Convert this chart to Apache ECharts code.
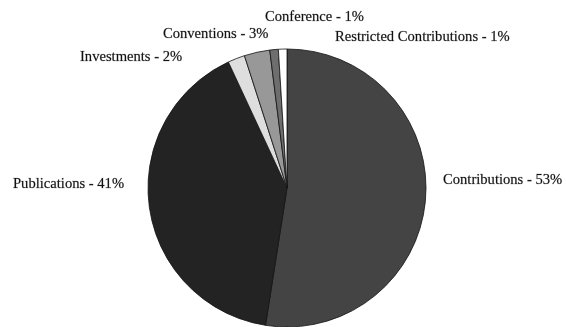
<!DOCTYPE html>
<html>
<head>
<meta charset="utf-8">
<script src="https://cdn.jsdelivr.net/npm/echarts@6/dist/echarts.min.js"></script>
<style>
  html, body { margin: 0; padding: 0; background: #fff; }
  #chart { width: 566px; height: 327px; }
</style>
</head>
<body>
<div id="chart"></div>
<script>
// Revenue sources, in percent
const categories = ['Contributions', 'Publications', 'Investments', 'Conventions', 'Conference', 'Restricted Contributions'];
const shares = [53, 41, 2, 3, 1, 1];

// Slice fills, one per category
const sliceColors = ['#444444', '#232323', '#dedede', '#989898', '#6e6e6e', '#ffffff'];

// Label anchor points (left edge, vertical middle)
const labelAnchors = [
  [443, 180],
  [13, 184],
  [80, 57],
  [163, 34],
  [265, 17],
  [335, 37]
];

const chart = echarts.init(document.getElementById('chart'), null, { renderer: 'canvas' });

chart.setOption({
  animation: false,
  backgroundColor: '#ffffff',
  series: [{
    type: 'pie',
    center: [287, 188],
    radius: 139,
    startAngle: 90,
    clockwise: true,
    avoidLabelOverlap: false,
    itemStyle: { borderColor: '#111', borderWidth: 0.8 },
    label: {
      show: true,
      position: 'outside',
      formatter: p => p.name + ' - ' + p.value + '%',
      fontFamily: '"Liberation Serif", "Times New Roman", serif',
      fontSize: 14.6,
      color: '#111111',
      textBorderColor: 'rgba(40,40,40,0.4)',
      textBorderWidth: 0.5
    },
    labelLine: { show: false },
    labelLayout: params => {
      const a = labelAnchors[params.dataIndex];
      return { x: a[0], y: a[1], align: 'left', verticalAlign: 'middle' };
    },
    emphasis: { disabled: true },
    data: categories.map((name, i) => ({
      name: name,
      value: shares[i],
      itemStyle: { color: sliceColors[i] }
    }))
  }]
});
</script>
</body>
</html>
